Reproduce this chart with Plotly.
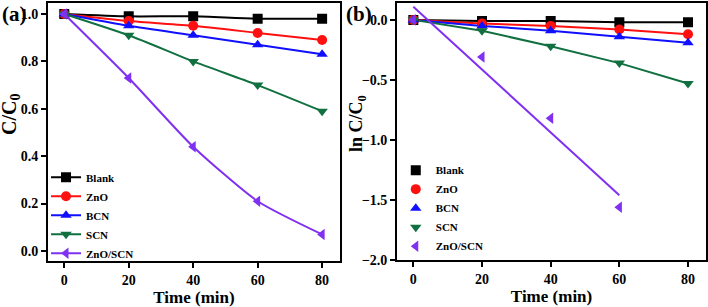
import plotly.graph_objects as go

time_a = [0, 20, 40, 60, 80]
blank_a = [1.0, 0.99, 0.99, 0.98, 0.98]
zno_a = [1.0, 0.97, 0.95, 0.92, 0.89]
bcn_a = [1.0, 0.95, 0.91, 0.87, 0.83]
scn_a = [1.0, 0.91, 0.80, 0.70, 0.59]
znoscn_a = [1.0, 0.73, 0.44, 0.21, 0.07]

time_b = [0, 20, 40, 60, 80]
blank_b = [0.0, -0.01, -0.01, -0.02, -0.02]
zno_b = [0.0, -0.03, -0.05, -0.08, -0.12]
bcn_b = [0.0, -0.05, -0.09, -0.14, -0.19]
scn_b = [0.0, -0.09, -0.22, -0.36, -0.53]
time_b_znoscn = [0, 20, 40, 60]
znoscn_b = [0.0, -0.31, -0.82, -1.56]
fit_x = [0, 60]
fit_y = [0.11, -1.46]

names = ["Blank", "ZnO", "BCN", "SCN", "ZnO/SCN"]
colors = ["#000000", "#ff1010", "#1010ff", "#107040", "#8030f0"]
symbols = ["square", "circle", "triangle-up", "triangle-down", "triangle-left"]

FONT = "Liberation Serif"
fig = go.Figure()

series_a = [blank_a, zno_a, bcn_a, scn_a, znoscn_a]
for n, c, s, y in zip(names, colors, symbols, series_a):
    fig.add_trace(go.Scatter(
        x=time_a, y=y, name=n, mode="lines+markers",
        line=dict(color=c, width=2, shape="spline", smoothing=0.6),
        marker=dict(symbol=s, size=10, color=c),
        xaxis="x", yaxis="y", legend="legend"))

series_b = [blank_b, zno_b, bcn_b, scn_b]
for n, c, s, y in zip(names[:4], colors[:4], symbols[:4], series_b):
    fig.add_trace(go.Scatter(
        x=time_b, y=y, mode="lines", showlegend=False,
        line=dict(color=c, width=2),
        xaxis="x2", yaxis="y2"))
fig.add_trace(go.Scatter(
    x=fit_x, y=fit_y, mode="lines", showlegend=False,
    line=dict(color=colors[4], width=2),
    xaxis="x2", yaxis="y2"))
for n, c, s, y, tx in zip(names, colors, symbols, series_b + [znoscn_b],
                          [time_b] * 4 + [time_b_znoscn]):
    fig.add_trace(go.Scatter(
        x=tx, y=y, name=n, mode="markers",
        marker=dict(symbol=s, size=10, color=c),
        xaxis="x2", yaxis="y2", legend="legend2"))

axis_common = dict(
    showgrid=False, zeroline=False, showline=True, linecolor="black",
    linewidth=2, mirror=True, ticks="outside", ticklen=5, tickwidth=2,
    tickcolor="black", automargin=False,
    tickfont=dict(family=FONT, size=14, color="black", weight="bold"),
)
title_font = dict(family=FONT, size=17, color="black", weight="bold")
leg_font = dict(family=FONT, size=11, color="black", weight="bold")

fig.update_layout(
    width=708, height=307,
    margin=dict(l=0, r=0, t=0, b=0),
    paper_bgcolor="white", plot_bgcolor="white",
    font=dict(family=FONT, color="black"),
    xaxis=dict(domain=[0.068, 0.480], range=[-5, 85.5], tickvals=[0, 20, 40, 60, 80],
               anchor="y",
               title=dict(text="Time (min)", font=title_font, standoff=2), **axis_common),
    yaxis=dict(domain=[0.150, 0.990], range=[-0.042, 1.046],
               tickvals=[0.0, 0.2, 0.4, 0.6, 0.8, 1.0], tickformat=".1f",
               anchor="x", **axis_common),
    xaxis2=dict(domain=[0.561, 0.997], range=[-4.7, 85.2], tickvals=[0, 20, 40, 60, 80],
                anchor="y2",
                title=dict(text="Time (min)", font=title_font, standoff=2), **axis_common),
    yaxis2=dict(domain=[0.153, 0.990], range=[-2.0, 0.14],
                tickvals=[0.0, -0.5, -1.0, -1.5, -2.0], tickformat=".1f",
                anchor="x2", **axis_common),
    legend=dict(x=0.065, y=0.47, xanchor="left", yanchor="top", itemwidth=30,
                bgcolor="rgba(0,0,0,0)", tracegroupgap=0, font=leg_font),
    legend2=dict(x=0.559, y=0.493, xanchor="left", yanchor="top", itemwidth=30,
                 bgcolor="rgba(0,0,0,0)", tracegroupgap=0, font=leg_font),
    annotations=[
        dict(text="(a)", x=0.0, y=1 - 14 / 307, xref="paper", yref="paper", xanchor="left",
             yanchor="middle", showarrow=False,
             font=dict(family=FONT, size=21, color="black", weight="bold")),
        dict(text="(b)", x=344 / 708, y=1 - 14 / 307, xref="paper", yref="paper",
             xanchor="left", yanchor="middle", showarrow=False,
             font=dict(family=FONT, size=21, color="black", weight="bold")),
        dict(text="C/C<sub>0</sub>", x=11 / 708, y=1 - 115 / 307, xref="paper", yref="paper",
             xanchor="center", yanchor="middle", textangle=-90, showarrow=False,
             font=dict(family=FONT, size=20, color="black", weight="bold")),
        dict(text="ln C/C<sub>0</sub>", x=358 / 708, y=1 - 123 / 307, xref="paper",
             yref="paper", xanchor="center", yanchor="middle", textangle=-90,
             showarrow=False,
             font=dict(family=FONT, size=18, color="black", weight="bold")),
    ],
)

fig.write_html("out.html", config={"displayModeBar": False},
               post_script="document.body.style.margin='0';document.body.style.overflow='hidden';")
